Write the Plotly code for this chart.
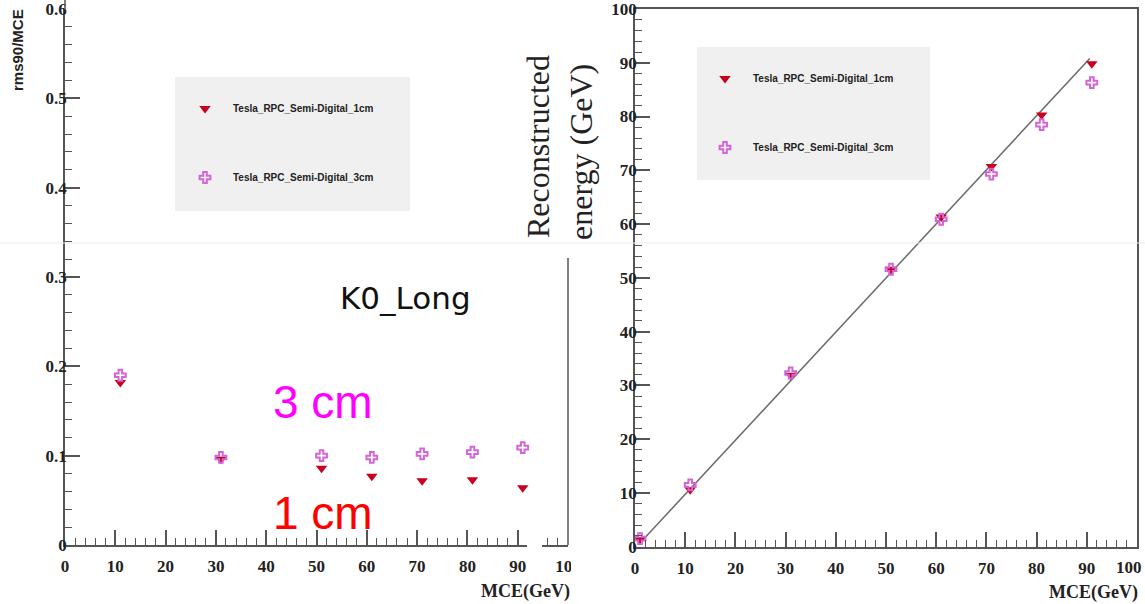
import plotly.graph_objects as go

W, H = 1145, 604

# Energy resolution (left panel)
mce_res = [11, 31, 51, 61, 71, 81, 91]
res_1cm = [0.182, 0.096, 0.086, 0.077, 0.072, 0.073, 0.064]
res_3cm = [0.190, 0.098, 0.100, 0.098, 0.102, 0.104, 0.109]

# Reconstructed energy (right panel)
mce_reco = [1, 11, 31, 51, 61, 71, 81, 91]
reco_1cm = [1.3, 10.6, 31.9, 51.6, 61.3, 70.7, 80.3, 89.8]
reco_3cm = [1.5, 11.5, 32.3, 51.6, 60.9, 69.3, 78.5, 86.3]

# Linear fit drawn over the reconstructed energy
fit_x = [1.5, 90.6]
fit_y = [1.2, 90.8]

# x tick labels of the right panel (the last one is set flush with the edge)
mce_ticks = [0, 10, 20, 30, 40, 50, 60, 70, 80, 90]
mce_last_tick = 100

names = ["Tesla_RPC_Semi-Digital_1cm", "Tesla_RPC_Semi-Digital_3cm"]
red = "#c8001e"
violet = "#d266d6"


def px_x(p):
    return p / W


def px_y(p):
    return 1 - p / H


fig = go.Figure()

tri = dict(symbol="triangle-down", size=10, color=red, line=dict(width=0))
crs = dict(symbol="cross-open", size=9, color=violet, line=dict(width=2))

fig.add_trace(go.Scatter(x=mce_res, y=res_1cm, mode="markers", marker=tri,
                         name=names[0], legendgroup="a", legend="legend",
                         xaxis="x", yaxis="y"))
fig.add_trace(go.Scatter(x=mce_res, y=res_3cm, mode="markers", marker=crs,
                         name=names[1], legendgroup="b", legend="legend",
                         xaxis="x", yaxis="y"))

fig.add_trace(go.Scatter(x=fit_x, y=fit_y, mode="lines",
                         line=dict(color="#6a6a6a", width=1.5),
                         showlegend=False, xaxis="x2", yaxis="y2"))
fig.add_trace(go.Scatter(x=mce_reco, y=reco_1cm, mode="markers", marker=tri,
                         name=names[0], legendgroup="c", legend="legend2",
                         xaxis="x2", yaxis="y2"))
fig.add_trace(go.Scatter(x=mce_reco, y=reco_3cm, mode="markers", marker=crs,
                         name=names[1], legendgroup="d", legend="legend2",
                         xaxis="x2", yaxis="y2"))

tickfont = dict(family="Liberation Serif", size=17, color="#222", weight="bold")
axcol = "#555"

common_x = dict(range=[0, 100], ticks="inside", ticklen=15,
                tickwidth=1.5, tickcolor=axcol, showline=True, linecolor=axcol,
                linewidth=1.5, showgrid=False, zeroline=False, tickfont=tickfont,
                ticklabelstandoff=5, automargin=False,
                ticklabeloverflow="allow",
                minor=dict(ticks="inside", ticklen=7, dtick=2, tickcolor=axcol,
                           tickwidth=1.2, showgrid=False))

common_y = dict(ticks="inside", ticklen=15, tickwidth=1.5, tickcolor=axcol,
                showline=True, linecolor=axcol, linewidth=1.5,
                showgrid=False, zeroline=False, tickfont=tickfont,
                ticklabelstandoff=-7, automargin=False,
                ticklabeloverflow="allow")

fig.update_layout(
    width=W, height=H,
    margin=dict(l=0, r=0, t=0, b=0),
    paper_bgcolor="white", plot_bgcolor="white",
    xaxis=dict(domain=[px_x(65), px_x(568)], anchor="y", dtick=10, **common_x),
    yaxis=dict(domain=[px_y(545), px_y(9)], anchor="x", range=[0, 0.6],
               dtick=0.1, tickformat=".1~f",
               minor=dict(ticks="inside", ticklen=7, dtick=0.02,
                          tickcolor=axcol, tickwidth=1.2, showgrid=False),
               **common_y),
    xaxis2=dict(domain=[px_x(635), px_x(1137)], anchor="y2", mirror=True,
                tickvals=mce_ticks + [mce_last_tick],
                ticktext=[str(v) for v in mce_ticks] + [""],
                **common_x),
    yaxis2=dict(domain=[px_y(546.7), px_y(9)], anchor="x2", range=[0, 100],
                dtick=10, mirror=True,
                minor=dict(ticks="inside", ticklen=7, dtick=2,
                           tickcolor=axcol, tickwidth=1.2, showgrid=False),
                **common_y),
    legend=dict(x=px_x(177), y=px_y(94), xanchor="left", yanchor="top",
                bgcolor="rgba(0,0,0,0)", itemwidth=46, tracegroupgap=50,
                font=dict(family="Liberation Sans", size=10, color="#222",
                          weight="bold")),
    legend2=dict(x=px_x(697), y=px_y(64), xanchor="left", yanchor="top",
                 bgcolor="rgba(0,0,0,0)", itemwidth=46, tracegroupgap=50,
                 font=dict(family="Liberation Sans", size=10, color="#222",
                           weight="bold")),
    showlegend=True,
)

shapes = [
    # legend panels
    dict(type="rect", xref="paper", yref="paper", x0=px_x(175), x1=px_x(410),
         y0=px_y(211), y1=px_y(77), fillcolor="#f0f0f0", line_width=0,
         layer="below"),
    dict(type="rect", xref="paper", yref="paper", x0=px_x(697), x1=px_x(930),
         y0=px_y(180), y1=px_y(47), fillcolor="#f0f0f0", line_width=0,
         layer="below"),
    # right edge of the left frame
    dict(type="line", xref="paper", yref="paper", x0=px_x(568), x1=px_x(568),
         y0=px_y(545), y1=px_y(258), line=dict(color=axcol, width=1.5)),
    # left axis line continues to the top edge
    dict(type="line", xref="paper", yref="paper", x0=px_x(65), x1=px_x(65),
         y0=px_y(10), y1=1, line=dict(color=axcol, width=1.5)),
    # faint separator across the page
    dict(type="line", xref="paper", yref="paper", x0=0, x1=1,
         y0=px_y(243), y1=px_y(243), line=dict(color="#ebebeb", width=1)),
    # gap in the left x axis and clipped last tick label
    dict(type="rect", xref="paper", yref="paper", x0=px_x(527), x1=px_x(542),
         y0=px_y(552), y1=px_y(520), fillcolor="white", line_width=0),
    dict(type="rect", xref="paper", yref="paper", x0=px_x(571), x1=px_x(594),
         y0=px_y(578), y1=px_y(548), fillcolor="white", line_width=0),
]
fig.update_layout(shapes=shapes)

ann = [
    dict(text="rms90/MCE", x=px_x(18), y=px_y(50), textangle=-90,
         font=dict(family="Liberation Sans", size=15, color="#222",
                   weight="bold")),
    dict(text="K0_Long", x=px_x(405), y=px_y(298),
         font=dict(family="DejaVu Sans", size=31, color="#111")),
    dict(text="3 cm", x=px_x(323), y=px_y(402),
         font=dict(family="Liberation Sans", size=46, color="#ff00ff")),
    dict(text="1 cm", x=px_x(323), y=px_y(513),
         font=dict(family="Liberation Sans", size=46, color="#ff0000")),
    dict(text="MCE(GeV)", x=px_x(525), y=px_y(591),
         font=dict(family="Liberation Serif", size=18, color="#222",
                   weight="bold")),
    dict(text="MCE(GeV)", x=px_x(1093), y=px_y(592),
         font=dict(family="Liberation Serif", size=18, color="#222",
                   weight="bold")),
    dict(text="Reconstructed", x=px_x(538), y=px_y(147), textangle=-90,
         font=dict(family="Liberation Serif", size=32, color="#222")),
    dict(text="energy (GeV)", x=px_x(581), y=px_y(152), textangle=-90,
         font=dict(family="Liberation Serif", size=32, color="#222")),
]
for a in ann:
    a.update(xref="paper", yref="paper", showarrow=False,
             xanchor="center", yanchor="middle")
# last x tick label of the right panel, kept inside the page edge
ann.append(dict(text=str(mce_last_tick), xref="paper", yref="paper",
                x=px_x(1144), y=px_y(556), xanchor="right", yanchor="top",
                showarrow=False, font=tickfont))
fig.update_layout(annotations=ann)

fig.write_html("out.html")
